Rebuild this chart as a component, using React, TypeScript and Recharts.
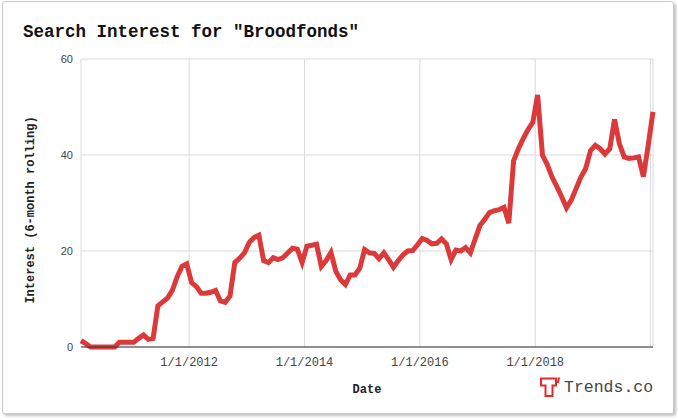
import { LineChart, Line, XAxis, YAxis, CartesianGrid } from 'recharts';

// monthly 6-month rolling interest, starting Feb 2010 (mid-month points)
const START_YEAR = 2010;
const START_MONTH = 2;

const INTEREST = [
  1.3, 0.7, 0, 0, 0, 0, 0, 0, 1, 1,
  1, 1, 1.8, 2.5, 1.6, 1.8, 8.6, 9.4, 10.2, 11.8,
  14.6, 16.8, 17.3, 13.4, 12.6, 11.2, 11.2, 11.4, 11.8, 9.6,
  9.3, 10.6, 17.6, 18.5, 19.6, 21.8, 22.8, 23.3, 18.0, 17.6,
  18.6, 18.2, 18.6, 19.6, 20.6, 20.4, 17.6, 21.0, 21.2, 21.4,
  16.8, 18.0, 19.7, 15.8, 14.0, 13.0, 15.0, 15.0, 16.4, 20.3,
  19.6, 19.5, 18.4, 19.6, 18.2, 16.6, 18.0, 19.2, 20.0, 20.1,
  21.3, 22.6, 22.2, 21.5, 21.6, 22.5, 21.5, 18.2, 20.2, 20.0,
  20.7, 19.6, 22.5, 25.3, 26.6, 28.0, 28.4, 28.6, 29.1, 25.8,
  38.8, 41.3, 43.4, 45.3, 46.8, 52.5, 40.0, 38.0, 35.4, 33.4,
  31.3, 29.0, 30.6, 33.0, 35.4, 37.2, 40.9, 42.0, 41.3, 40.2,
  41.3, 47.4, 42.4, 39.6, 39.3, 39.4, 39.6, 35.5, 42.0, 49.0,
];

const YEAR_TICKS = [2012, 2014, 2016, 2018, 2020];
const YEAR_LABELS = ['1/1/2012', '1/1/2014', '1/1/2016', '1/1/2018', ''];
const Y_TICKS = [0, 20, 40, 60];

const DATA = INTEREST.map((v, i) => ({
  t: START_YEAR + (START_MONTH - 1 + i + 0.5) / 12,
  v,
}));

const MONO = '"Liberation Mono", "Courier New", monospace';
const SANS = '"Liberation Sans", Arial, sans-serif';

export default function App() {
  return (
    <div style={{ position: 'absolute', left: 0, top: 0, width: 678, height: 420, background: '#fff' }}>
      <div
        style={{
          position: 'absolute',
          left: 2,
          top: 1,
          width: 672,
          height: 413,
          boxSizing: 'border-box',
          border: '1px solid #c8c8c8',
          borderRadius: 3,
          boxShadow: '2px 2px 3px rgba(0,0,0,0.25)',
        }}
      />
      <div style={{ position: 'absolute', left: 0, top: 0 }}>
        <LineChart width={678} height={420} data={DATA} margin={{ top: 59, right: 25, bottom: 43, left: 0 }}>
          <CartesianGrid stroke="#dadada" />
          <XAxis
            dataKey="t"
            type="number"
            domain={['dataMin', 'dataMax']}
            ticks={YEAR_TICKS}
            interval={0}
            tickFormatter={(t: number) => YEAR_LABELS[YEAR_TICKS.indexOf(t)] ?? ''}
            height={30}
            axisLine={{ stroke: '#333' }}
            tickLine={false}
            tickMargin={4}
            tick={{ fill: '#444', fontSize: 12, fontFamily: MONO }}
          />
          <YAxis
            domain={[0, 60]}
            ticks={Y_TICKS}
            width={81}
            axisLine={false}
            tickLine={false}
            tick={{ fill: '#444', fontSize: 11, fontFamily: SANS }}
          />
          <Line
            type="linear"
            dataKey="v"
            stroke="#dc3a3a"
            strokeWidth={5}
            dot={false}
            activeDot={false}
            isAnimationActive={false}
          />
        </LineChart>
      </div>
      <svg width={678} height={420} style={{ position: 'absolute', left: 0, top: 0, pointerEvents: 'none' }}>
        <text x={23} y={37} fontFamily={MONO} fontWeight="bold" fontSize={17.5} fill="#111">
          Search Interest for "Broodfonds"
        </text>
        <text
          x={34}
          y={210}
          transform="rotate(-90 34 210)"
          textAnchor="middle"
          fontFamily={MONO}
          fontWeight="bold"
          fontSize={12}
          fill="#222"
        >
          Interest (6-month rolling)
        </text>
        <text x={367} y={393} textAnchor="middle" fontFamily={MONO} fontWeight="bold" fontSize={12} fill="#222">
          Date
        </text>
        <g transform="translate(538,375)">
          <path d="M3,3.5 H18 V10.5 H14.5 V21 H7.5 V10.5 H3 Z" fill="#fff" stroke="#e8262b" strokeWidth={2} />
          <path d="M21,2.5 L19.8,8" stroke="#e8262b" strokeWidth={2} fill="none" />
        </g>
        <text x={564} y={392} fontFamily={MONO} fontSize={16.5} fill="#444">
          Trends.co
        </text>
      </svg>
    </div>
  );
}
